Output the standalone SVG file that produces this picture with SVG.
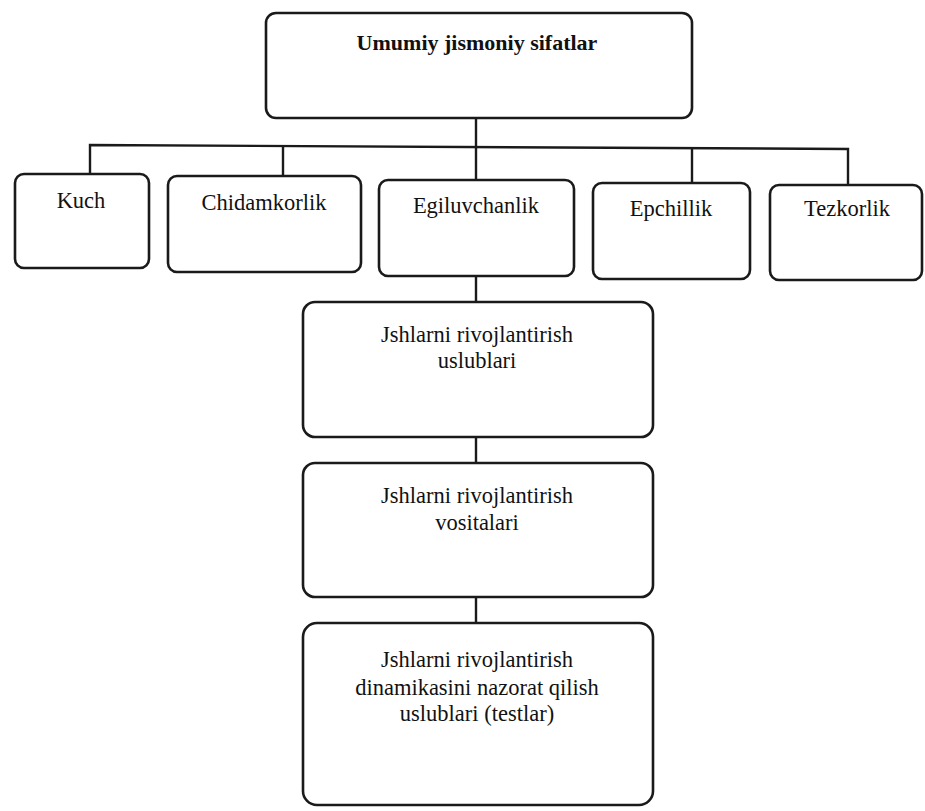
<svg xmlns="http://www.w3.org/2000/svg" width="925" height="811" viewBox="0 0 925 811">
<style>
.box{fill:#fff;stroke:#1a1a1a;stroke-width:2.6}
.t{font-family:"Liberation Serif","Times New Roman",serif;font-size:22.5px;fill:#111;text-anchor:middle}
.b{font-weight:bold;font-size:22px}
.c{fill:none;stroke:#1a1a1a;stroke-width:2.4}
</style>
<rect width="925" height="811" fill="#fff"/>
<g id="connectors">
<line class="c" x1="476" y1="118" x2="476" y2="146"/>
<polyline class="c" points="90,174 90,145 848,149 848,185"/>
<line class="c" x1="283" y1="146" x2="283" y2="177"/>
<line class="c" x1="476" y1="147" x2="476" y2="180"/>
<line class="c" x1="692" y1="148" x2="692" y2="183"/>
<line class="c" x1="476" y1="276" x2="476" y2="302"/>
<line class="c" x1="476" y1="437" x2="476" y2="463"/>
<line class="c" x1="476" y1="597" x2="476" y2="623"/>
</g>
<g id="n-top"><rect class="box" x="266" y="13" width="426" height="105" rx="10"/><text class="t b" x="477" y="50">Umumiy jismoniy sifatlar</text></g>
<g id="n-kuch"><rect class="box" x="15" y="174" width="134" height="94" rx="9"/><text class="t" x="81" y="208">Kuch</text></g>
<g id="n-chidamkorlik"><rect class="box" x="168" y="176" width="193" height="96" rx="9"/><text class="t" x="264" y="210">Chidamkorlik</text></g>
<g id="n-egiluvchanlik"><rect class="box" x="379" y="180" width="195" height="96" rx="9"/><text class="t" x="476" y="213">Egiluvchanlik</text></g>
<g id="n-epchillik"><rect class="box" x="593" y="183" width="157" height="96" rx="9"/><text class="t" x="671" y="216">Epchillik</text></g>
<g id="n-tezkorlik"><rect class="box" x="770" y="185" width="152" height="95" rx="9"/><text class="t" x="847" y="216">Tezkorlik</text></g>
<g id="n-uslublari"><rect class="box" x="303" y="302" width="350" height="135" rx="12"/><text class="t" x="477" y="342">Jshlarni rivojlantirish</text><text class="t" x="477" y="368">uslublari</text></g>
<g id="n-vositalari"><rect class="box" x="303" y="463" width="350" height="134" rx="12"/><text class="t" x="477" y="503">Jshlarni rivojlantirish</text><text class="t" x="477" y="530">vositalari</text></g>
<g id="n-testlar"><rect class="box" x="303" y="623" width="350" height="182" rx="14"/><text class="t" x="477" y="667">Jshlarni rivojlantirish</text><text class="t" x="477" y="695">dinamikasini nazorat qilish</text><text class="t" x="477" y="721">uslublari (testlar)</text></g>
</svg>
